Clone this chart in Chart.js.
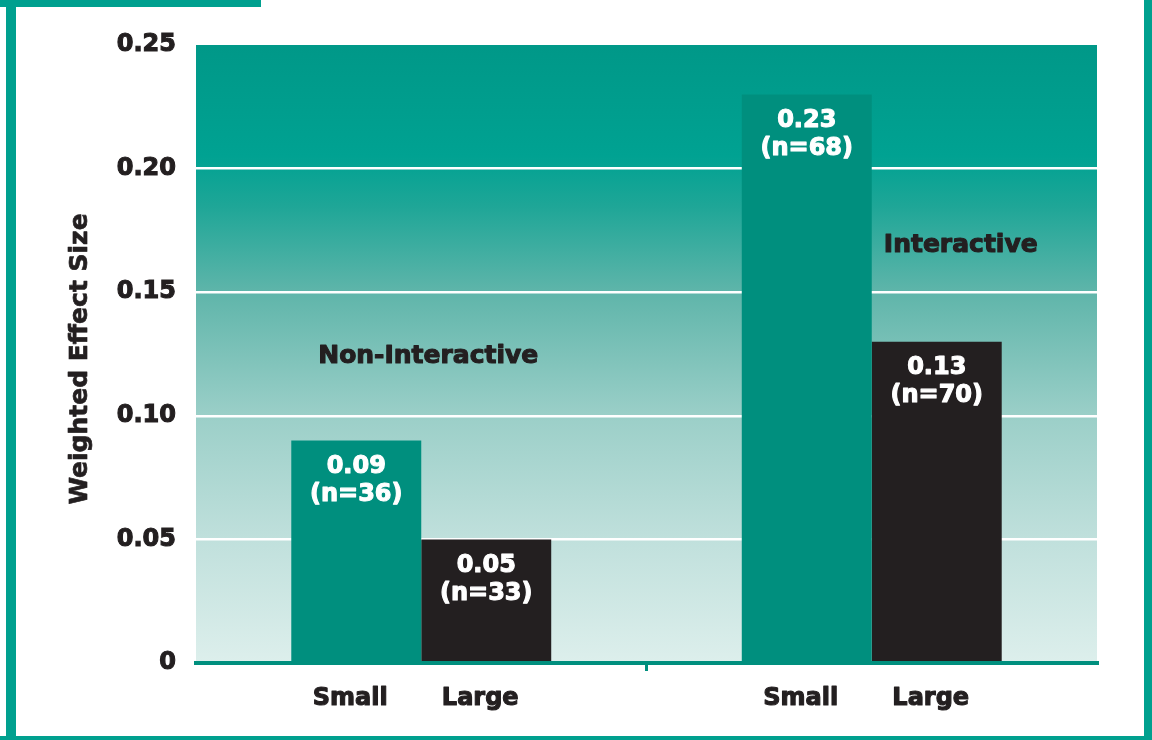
<!DOCTYPE html>
<html>
<head>
<meta charset="utf-8">
<script src="https://cdn.jsdelivr.net/npm/chart.js@4"></script>
<style>
  html, body { margin: 0; padding: 0; background: #fff; }
  #wrap { width: 1152px; height: 740px; position: relative; }
</style>
</head>
<body>
<div id="wrap"><canvas id="chart" width="1152" height="740"></canvas></div>
<script>
// ── Data ────────────────────────────────────────────────────────────────
const groups      = ['Non-Interactive', 'Interactive'];
const seriesNames = ['Small', 'Large'];
const smallValues = [0.09, 0.23];
const largeValues = [0.05, 0.13];
const smallN      = [36, 68];
const largeN      = [33, 70];
const yTicks      = [0, 0.05, 0.10, 0.15, 0.20, 0.25];
const yTitle      = 'Weighted Effect Size';

const TEAL  = '#008f7e';
const BLACK = '#231f20';
const FRAME = '#00a08f';
const FONT  = '"DejaVu Sans", sans-serif';

// heavy text: fill + thin stroke of the same colour
function heavyText(ctx, text, x, y, color, width) {
  ctx.fillStyle = color;
  ctx.strokeStyle = color;
  ctx.lineWidth = width;
  ctx.lineJoin = 'round';
  ctx.strokeText(text, x, y);
  ctx.fillText(text, x, y);
}

// frame + gradient plot background
const backdrop = {
  id: 'backdrop',
  beforeDraw(chart) {
    const { ctx, chartArea: a } = chart;
    ctx.save();
    ctx.fillStyle = FRAME;
    ctx.fillRect(0, 0, 261, 7);
    ctx.fillRect(6, 0, 10, 740);
    ctx.fillRect(1144, 0, 8, 740);
    ctx.fillRect(0, 736, 1152, 4);
    const g = ctx.createLinearGradient(0, a.top, 0, a.bottom);
    g.addColorStop(0.00, '#009888');
    g.addColorStop(0.18, '#00a292');
    g.addColorStop(0.26, '#1ea697');
    g.addColorStop(0.40, '#5fb5aa');
    g.addColorStop(0.60, '#9bcfc8');
    g.addColorStop(0.80, '#c0e0dc');
    g.addColorStop(1.00, '#ddefec');
    ctx.fillStyle = g;
    ctx.fillRect(a.left, a.top, a.right - a.left, a.bottom - a.top);
    ctx.restore();
  }
};

// value labels, bar names under axis, group captions, y title
const labelsPlugin = {
  id: 'labels',
  afterDatasetsDraw(chart) {
    const { ctx, scales: { x, y } } = chart;
    const nLists = [smallN, largeN];
    ctx.save();
    ctx.textAlign = 'center';
    ctx.textBaseline = 'top';
    chart.data.datasets.forEach((ds, di) => {
      chart.getDatasetMeta(di).data.forEach((bar, i) => {
        ctx.font = `bold 24px ${FONT}`;
        heavyText(ctx, ds.data[i].toFixed(2), bar.x, bar.y + 14, '#fff', 1.1);
        heavyText(ctx, `(n=${nLists[di][i]})`, bar.x, bar.y + 42, '#fff', 1.1);
        heavyText(ctx, ds.label, bar.x - 6, y.bottom + 24, BLACK, 1.1);
      });
    });
    // group captions
    ctx.font = `bold 25px ${FONT}`;
    ctx.textBaseline = 'middle';
    heavyText(ctx, groups[0], x.getPixelForValue(0) + 7, y.getPixelForValue(0.124), BLACK, 1.1);
    heavyText(ctx, groups[1], x.getPixelForValue(1) + 89, y.getPixelForValue(0.169), BLACK, 1.1);
    // y axis title
    ctx.translate(80, (y.top + y.bottom) / 2 + 5);
    ctx.rotate(-Math.PI / 2);
    ctx.font = `bold 25px ${FONT}`;
    heavyText(ctx, yTitle, 0, 0, BLACK, 0.7);
    ctx.restore();
  }
};

new Chart(document.getElementById('chart'), {
  type: 'bar',
  data: {
    labels: groups,
    datasets: [
      { label: seriesNames[0], data: smallValues, backgroundColor: TEAL },
      { label: seriesNames[1], data: largeValues, backgroundColor: BLACK },
    ],
  },
  options: {
    responsive: false,
    animation: false,
    layout: { padding: { top: 45, right: 55, bottom: 0, left: 0 } },
    datasets: { bar: { categoryPercentage: 0.577, barPercentage: 1.0, borderWidth: 0 } },
    scales: {
      x: {
        afterFit: s => { s.height = 77; },
        border: { display: true, color: TEAL, width: 4, z: 1 },
        grid: {
          offset: true,
          drawOnChartArea: false,
          tickLength: 8,
          lineWidth: 3,
          color: ctx => (ctx.index === 1 ? TEAL : 'rgba(0,0,0,0)'),
        },
        ticks: { display: false },
      },
      y: {
        min: 0,
        max: 0.25,
        afterFit: s => { s.width = 196; },
        afterBuildTicks: s => { s.ticks = yTicks.map(v => ({ value: v })); },
        border: { display: false },
        grid: {
          drawTicks: false,
          lineWidth: 2.5,
          color: ctx => (ctx.tick && ctx.tick.value > 0 && ctx.tick.value < 0.25 ? '#ffffff' : 'rgba(0,0,0,0)'),
        },
        ticks: {
          padding: 20,
          color: BLACK,
          textStrokeColor: BLACK,
          textStrokeWidth: 1.1,
          font: { family: FONT, size: 24, weight: 'bold' },
          callback: v => (v === 0 ? '0' : v.toFixed(2)),
        },
      },
    },
    plugins: {
      legend: { display: false },
      tooltip: { enabled: false },
    },
  },
  plugins: [backdrop, labelsPlugin],
});
</script>
</body>
</html>
